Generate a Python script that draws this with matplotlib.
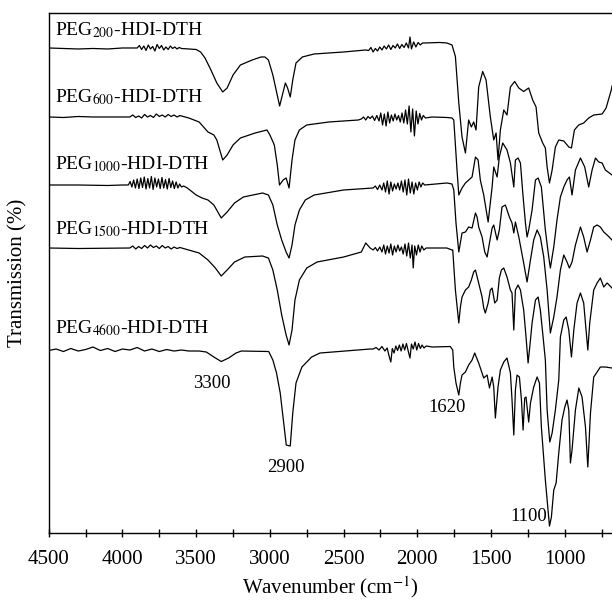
import numpy as np
import matplotlib
matplotlib.use('Agg')
import matplotlib.pyplot as plt
from matplotlib.ticker import MultipleLocator

plt.rcParams['font.family'] = 'serif'
plt.rcParams['font.serif'] = ['Liberation Serif', 'DejaVu Serif']
plt.rcParams['mathtext.fontset'] = 'stix'

# spectra: (wavenumber cm-1, offset transmission)
peg200 = [
    (4500, 97.0), (4400, 96.9), (4300, 96.8), (4200, 96.9), (4100, 96.8), (4000, 97.0),
    (3900, 97.0), (3885, 97.5), (3870, 96.7), (3855, 97.4), (3840, 96.5), (3825, 97.6),
    (3810, 96.8), (3795, 97.3), (3780, 96.4), (3765, 97.7), (3750, 96.9), (3735, 97.5),
    (3720, 96.6), (3705, 97.2), (3690, 96.7), (3675, 97.4), (3660, 96.9), (3645, 97.2),
    (3630, 96.8), (3615, 97.1), (3600, 96.9),
    (3550, 96.8), (3500, 96.7), (3470, 96.2), (3440, 95.0), (3400, 92.6), (3360, 90.0),
    (3320, 88.2), (3290, 89.0), (3250, 91.6), (3200, 93.6), (3120, 94.6), (3060, 95.2),
    (3034, 95.2), (3010, 94.6), (2980, 91.6), (2950, 87.6), (2934, 85.4), (2915, 87.6),
    (2895, 90.0), (2880, 89.0), (2862, 87.2), (2845, 90.6), (2823, 94.0), (2780, 95.2),
    (2700, 95.8), (2500, 96.2), (2350, 96.6),
    (2330, 96.5), (2315, 97.1), (2300, 96.2), (2285, 96.9), (2270, 96.4), (2255, 97.2),
    (2240, 96.6), (2225, 97.4), (2210, 96.8), (2195, 97.6), (2180, 96.7), (2165, 97.5),
    (2150, 97.0), (2135, 97.8), (2120, 96.9), (2105, 97.7), (2090, 97.1), (2075, 98.0),
    (2060, 97.0), (2050, 99.2), (2040, 96.8), (2025, 98.2), (2010, 97.2), (1995, 98.1),
    (1980, 97.6), (1965, 98.0),
    (1950, 98.0), (1850, 98.1), (1800, 98.0), (1765, 97.6), (1742, 95.3), (1719, 86.0),
    (1697, 79.2), (1674, 76.0), (1652, 82.6), (1634, 81.2), (1618, 82.2), (1602, 80.6),
    (1584, 89.2), (1557, 92.3), (1534, 90.6), (1505, 83.2), (1482, 78.6), (1466, 80.0),
    (1453, 74.6), (1437, 80.6), (1414, 84.6), (1392, 83.6), (1369, 89.2), (1340, 90.3),
    (1312, 89.0), (1279, 88.3), (1245, 89.0), (1218, 86.6), (1195, 85.2), (1177, 80.0),
    (1150, 78.0), (1132, 77.0), (1120, 73.2), (1104, 70.0), (1086, 72.6), (1064, 77.2),
    (1041, 78.6), (1007, 78.4), (973, 77.2), (955, 77.0), (935, 80.6), (906, 81.6),
    (872, 82.0), (838, 83.0), (804, 83.6), (747, 83.8), (720, 85.0), (684, 88.7), (680, 89.4),
]

peg600 = [
    (4500, 83.2), (4400, 83.1), (4300, 83.3), (4200, 83.2), (4100, 83.2), (4000, 83.2),
    (3950, 83.2), (3930, 83.6), (3910, 83.1), (3890, 83.4), (3870, 83.0), (3850, 83.7),
    (3830, 83.2), (3810, 83.5), (3790, 83.1), (3770, 83.8), (3750, 83.3), (3730, 83.6),
    (3710, 83.2), (3690, 83.7), (3670, 83.3), (3650, 83.6), (3630, 83.2), (3610, 83.5),
    (3600, 83.4), (3550, 83.0), (3480, 82.2), (3420, 80.2), (3380, 79.6), (3360, 78.6),
    (3320, 74.6), (3290, 75.6), (3250, 77.6), (3200, 79.0), (3100, 80.0), (3020, 80.6),
    (3000, 79.6), (2970, 77.6), (2950, 73.6), (2935, 69.6), (2910, 70.6), (2890, 71.0),
    (2870, 69.0), (2850, 74.6), (2830, 78.6), (2800, 80.6), (2750, 81.6), (2600, 82.2),
    (2400, 82.6),
    (2380, 82.8), (2365, 83.2), (2350, 82.6), (2335, 83.3), (2320, 82.9), (2305, 83.4),
    (2290, 82.5), (2275, 83.5), (2260, 82.4), (2248, 84.0), (2236, 81.6), (2224, 83.8),
    (2212, 81.4), (2200, 84.2), (2188, 82.0), (2176, 83.6), (2164, 82.4), (2152, 83.8),
    (2140, 82.6), (2128, 83.5), (2116, 82.2), (2104, 84.0), (2092, 82.0), (2080, 84.6),
    (2068, 81.8), (2056, 85.4), (2044, 80.2), (2032, 84.8), (2020, 79.4), (2008, 84.4),
    (1996, 81.8), (1984, 83.9), (1972, 82.6), (1960, 83.5), (1945, 83.0),
    (1900, 83.2), (1800, 83.1), (1765, 83.0), (1753, 82.6), (1731, 72.6), (1719, 67.6),
    (1697, 69.0), (1674, 70.0), (1652, 70.6), (1629, 71.2), (1606, 75.2), (1588, 74.6),
    (1573, 70.6), (1550, 67.6), (1539, 65.6), (1520, 62.2), (1511, 64.6), (1493, 69.2),
    (1482, 73.2), (1459, 71.2), (1444, 75.2), (1421, 78.0), (1392, 76.6), (1369, 74.0),
    (1346, 69.2), (1335, 74.6), (1317, 75.0), (1301, 74.0), (1285, 68.0), (1267, 62.0),
    (1256, 59.2), (1245, 60.6), (1222, 64.6), (1199, 70.6), (1181, 71.0), (1159, 69.2),
    (1132, 60.6), (1109, 55.2), (1098, 53.0), (1075, 57.2), (1053, 62.6), (1030, 67.2),
    (1007, 69.2), (985, 70.6), (969, 71.2), (951, 67.6), (928, 72.6), (894, 75.0),
    (865, 73.2), (838, 69.2), (815, 72.6), (792, 75.0), (770, 74.2), (747, 74.0),
    (725, 72.6), (680, 71.6),
]

peg1000 = [
    (4500, 69.6), (4300, 69.6), (4100, 69.5), (4000, 69.6),
    (3960, 69.6), (3948, 70.3), (3936, 69.2), (3924, 70.6), (3912, 69.0), (3900, 70.8),
    (3888, 68.9), (3876, 71.0), (3864, 69.1), (3852, 71.2), (3840, 68.8), (3828, 70.9),
    (3816, 69.0), (3804, 71.3), (3792, 68.7), (3780, 71.0), (3768, 69.2), (3756, 70.8),
    (3744, 68.9), (3732, 71.1), (3720, 69.0), (3708, 70.7), (3696, 68.8), (3684, 70.9),
    (3672, 69.1), (3660, 70.4), (3648, 68.9), (3636, 70.2), (3624, 69.0), (3612, 69.8),
    (3600, 69.2), (3585, 69.4),
    (3560, 69.0), (3500, 67.6), (3460, 67.0), (3420, 66.6), (3380, 65.6), (3330, 63.0),
    (3290, 64.2), (3240, 66.0), (3180, 67.2), (3050, 68.0), (3010, 67.6), (2980, 65.6),
    (2950, 61.6), (2920, 58.6), (2890, 56.2), (2870, 55.0), (2850, 57.6), (2830, 61.6),
    (2800, 64.6), (2760, 66.6), (2700, 67.6), (2500, 68.6),
    (2300, 69.0), (2285, 69.4), (2270, 68.7), (2255, 69.6), (2240, 68.6), (2228, 70.0),
    (2216, 68.2), (2204, 70.4), (2192, 67.8), (2180, 70.2), (2168, 68.4), (2156, 69.8),
    (2144, 68.8), (2132, 70.0), (2120, 68.6), (2108, 70.4), (2096, 68.2), (2084, 70.6),
    (2072, 67.6), (2060, 70.8), (2048, 68.0), (2036, 70.2), (2024, 67.8), (2012, 70.0),
    (2000, 68.6), (1988, 70.2), (1976, 69.2), (1964, 70.0), (1950, 69.6),
    (1800, 70.0), (1765, 69.8), (1753, 68.6), (1738, 62.0), (1719, 56.2), (1697, 60.0),
    (1674, 60.2), (1652, 61.2), (1629, 61.0), (1606, 64.0), (1595, 63.2), (1584, 61.2),
    (1561, 59.2), (1543, 56.2), (1527, 55.2), (1511, 58.0), (1493, 61.0), (1482, 61.6),
    (1459, 58.6), (1444, 60.6), (1426, 65.2), (1403, 65.6), (1376, 63.2), (1358, 62.0),
    (1346, 60.0), (1335, 62.2), (1312, 59.2), (1279, 54.0), (1256, 50.2), (1233, 54.6),
    (1211, 58.6), (1188, 60.6), (1166, 59.2), (1143, 55.2), (1120, 48.6), (1098, 40.0),
    (1075, 43.2), (1053, 47.2), (1030, 52.6), (1007, 55.6), (985, 54.2), (969, 53.0),
    (951, 54.2), (928, 57.6), (894, 61.2), (872, 59.2), (849, 56.2), (826, 58.6),
    (804, 61.2), (781, 61.6), (759, 61.2), (736, 60.2), (713, 59.6), (680, 58.6),
]

peg1500 = [
    (4500, 57.0), (4300, 56.9), (4000, 57.0),
    (3950, 57.0), (3930, 57.4), (3910, 56.8), (3890, 57.3), (3870, 56.9), (3850, 57.5),
    (3830, 57.0), (3810, 57.6), (3790, 57.1), (3770, 57.4), (3750, 56.9), (3730, 57.5),
    (3710, 57.0), (3690, 57.3), (3670, 56.8), (3650, 57.2), (3630, 56.9), (3610, 57.1),
    (3550, 56.6), (3480, 56.0), (3420, 54.6), (3370, 53.0), (3330, 51.4), (3290, 52.6),
    (3240, 54.2), (3170, 55.2), (3050, 55.4), (3010, 55.0), (2980, 52.6), (2950, 48.6),
    (2920, 43.6), (2890, 39.6), (2870, 37.6), (2850, 40.6), (2830, 46.6), (2800, 50.6),
    (2750, 53.0), (2680, 54.2), (2500, 55.2), (2380, 56.2), (2350, 58.0), (2320, 57.0),
    (2300, 56.6), (2285, 57.1), (2270, 56.4), (2255, 57.2), (2240, 56.2), (2228, 57.6),
    (2216, 55.8), (2204, 57.4), (2192, 56.0), (2180, 57.8), (2168, 55.6), (2156, 57.4),
    (2144, 56.2), (2132, 57.6), (2120, 56.4), (2108, 57.2), (2096, 55.8), (2084, 57.8),
    (2072, 55.4), (2060, 58.0), (2048, 55.0), (2036, 57.6), (2028, 53.0), (2018, 57.4),
    (2006, 55.6), (1994, 57.6), (1982, 56.2), (1970, 57.4), (1956, 56.6), (1940, 57.0),
    (1800, 57.0), (1765, 56.6), (1760, 56.6), (1742, 48.6), (1719, 42.0), (1708, 45.2),
    (1697, 47.2), (1674, 48.6), (1652, 49.2), (1634, 50.6), (1618, 52.2), (1606, 52.6),
    (1584, 50.0), (1561, 47.2), (1550, 45.0), (1539, 44.0), (1520, 46.0), (1505, 48.6),
    (1493, 49.0), (1475, 46.0), (1459, 46.6), (1444, 51.0), (1430, 52.6), (1414, 53.0),
    (1392, 51.2), (1369, 48.6), (1358, 48.0), (1346, 40.6), (1335, 48.6), (1317, 49.6),
    (1301, 48.6), (1279, 44.6), (1263, 39.2), (1249, 34.0), (1233, 38.6), (1222, 42.0),
    (1199, 46.6), (1181, 47.2), (1166, 44.6), (1150, 40.0), (1132, 34.6), (1120, 24.6),
    (1102, 18.2), (1086, 20.0), (1064, 24.6), (1041, 30.6), (1030, 39.2), (1007, 42.6),
    (991, 43.2), (973, 40.6), (955, 35.2), (939, 40.6), (917, 46.0), (894, 48.0),
    (872, 46.0), (856, 40.6), (844, 36.6), (831, 42.0), (804, 48.6), (781, 50.0),
    (759, 51.0), (736, 49.2), (713, 50.0), (680, 49.0),
]

peg4600 = [
    (4500, 36.5), (4450, 36.8), (4400, 36.3), (4350, 36.9), (4300, 36.4), (4250, 36.7),
    (4200, 37.2), (4150, 36.5), (4100, 36.9), (4050, 36.3), (4000, 36.8), (3950, 36.6),
    (3900, 37.1), (3850, 36.4), (3800, 36.8), (3750, 36.3), (3700, 36.7), (3650, 36.4),
    (3600, 36.6), (3550, 36.4),
    (3480, 36.4), (3431, 36.2), (3380, 35.2), (3330, 34.3), (3280, 35.0), (3230, 36.0),
    (3193, 36.4), (3008, 36.3), (2980, 34.6), (2955, 32.0), (2930, 28.0), (2905, 21.6),
    (2889, 17.6), (2862, 17.4), (2845, 24.0), (2823, 30.0), (2783, 33.2), (2717, 35.2),
    (2660, 36.0), (2452, 36.5), (2320, 36.8),
    (2300, 36.8), (2280, 37.1), (2260, 36.6), (2240, 37.3), (2220, 36.4), (2205, 37.0),
    (2190, 35.2), (2180, 34.2), (2170, 36.9), (2158, 36.0), (2146, 37.4), (2134, 36.5),
    (2122, 37.6), (2110, 36.4), (2098, 37.8), (2086, 36.6), (2074, 37.9), (2062, 36.4),
    (2050, 35.0), (2040, 37.8), (2028, 36.8), (2016, 38.2), (2004, 36.6), (1992, 37.9),
    (1980, 36.9), (1968, 37.6), (1955, 37.0), (1940, 37.4),
    (1900, 37.2), (1777, 37.3), (1760, 36.6), (1753, 33.2), (1738, 30.0), (1719, 27.6),
    (1708, 30.0), (1697, 31.6), (1674, 32.2), (1652, 33.6), (1629, 34.6), (1611, 36.0),
    (1584, 34.0), (1550, 31.0), (1527, 31.6), (1511, 29.0), (1493, 31.2), (1482, 29.2),
    (1471, 23.0), (1453, 29.2), (1437, 32.6), (1414, 34.2), (1392, 35.0), (1369, 32.0),
    (1358, 26.6), (1346, 19.6), (1335, 28.6), (1324, 31.6), (1308, 31.2), (1294, 26.6),
    (1283, 20.6), (1272, 27.0), (1263, 27.2), (1245, 22.2), (1233, 26.0), (1211, 29.2),
    (1188, 31.2), (1172, 30.0), (1159, 21.2), (1147, 16.6), (1132, 10.6), (1116, 5.2),
    (1104, 1.4), (1091, 3.2), (1075, 8.6), (1059, 10.0), (1041, 16.0), (1019, 22.6),
    (1000, 25.2), (985, 26.6), (973, 24.6), (962, 14.0), (951, 16.6), (928, 24.6),
    (905, 29.0), (883, 27.2), (860, 21.2), (844, 13.2), (826, 24.0), (804, 31.2),
    (781, 32.2), (759, 33.2), (725, 33.2), (680, 33.0),
]

spectra = [peg200, peg600, peg1000, peg1500, peg4600]
names = [r'PEG$_{\mathrm{200}}$-HDI-DTH', r'PEG$_{\mathrm{600}}$-HDI-DTH',
         r'PEG$_{\mathrm{1000}}$-HDI-DTH', r'PEG$_{\mathrm{1500}}$-HDI-DTH',
         r'PEG$_{\mathrm{4600}}$-HDI-DTH']
name_y = [100.6, 87.2, 73.8, 60.8, 41.0]

peaks = ['3300', '2900', '1620', '1100']
peak_x = [3395, 2894, 1799, 1245]
peak_y = [30.0, 13.2, 25.2, 3.4]

fig = plt.figure(figsize=(6.12, 6.01), dpi=100)
ax = fig.add_axes([0.0796, 0.1131, 0.9204, 0.8653])

for pts in spectra:
    arr = np.array(sorted(pts, reverse=True))
    ax.plot(arr[:, 0], arr[:, 1], color='black', lw=0.9)

for name, yy in zip(names, name_y):
    ax.text(4457, yy, name, fontsize=14, va='center', ha='left')

for lab, px, py in zip(peaks, peak_x, peak_y):
    ax.text(px, py, lab, fontsize=13.5, va='center', ha='center')

ax.set_xlim(4500, 680)
ax.set_ylim(0, 104)
ax.set_yticks([])
ax.xaxis.set_major_locator(MultipleLocator(500))
ax.xaxis.set_minor_locator(MultipleLocator(250))
ax.tick_params(axis='x', which='both', direction='inout', length=6, width=1,
               labelsize=15, pad=9)
ax.spines['right'].set_visible(False)
for s in ['left', 'bottom', 'top']:
    ax.spines[s].set_linewidth(1.0)

ax.set_xlabel(r'Wavenumber (cm$^{\mathrm{-1}}$)', fontsize=15)
ax.xaxis.set_label_coords(0.5, -0.08)
ax.set_ylabel('Transmission (%)', fontsize=15)
ax.yaxis.set_label_coords(-0.037, 0.5)

plt.savefig('out.png', dpi=100)
